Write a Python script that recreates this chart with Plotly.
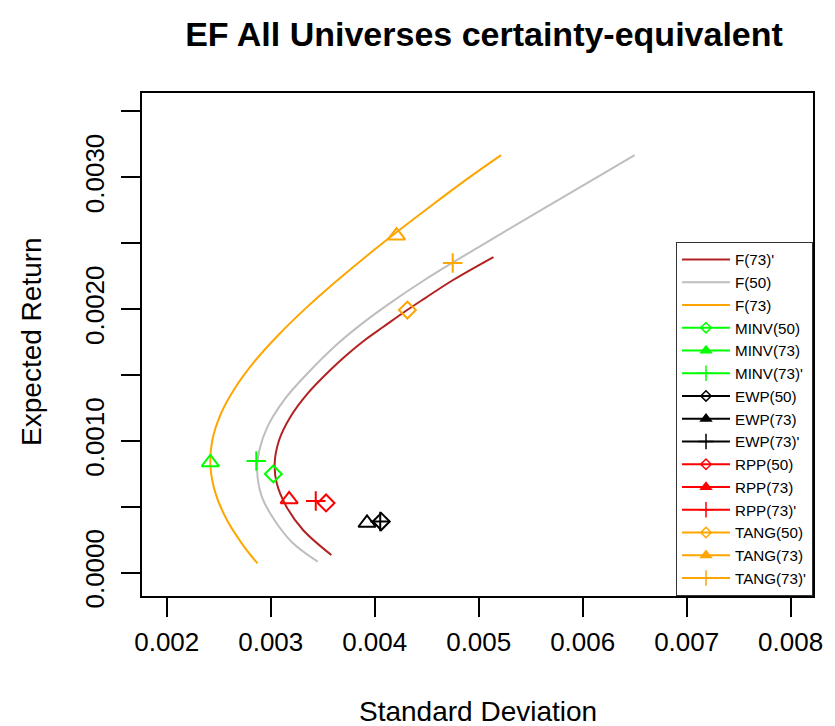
import plotly.graph_objects as go

# Efficient frontiers: standard deviation vs expected return (top to bottom)
f73p_sd = [0.005142, 0.004754, 0.004482, 0.004312, 0.004084, 0.003906, 0.003730,
           0.003573, 0.003356, 0.003190, 0.003081, 0.003038, 0.003058, 0.003151,
           0.003311, 0.003583]
f73p_mu = [0.002395, 0.002221, 0.002082, 0.001993, 0.001866, 0.001766, 0.001652,
           0.001538, 0.001361, 0.001184, 0.001007, 0.000830, 0.000678, 0.000501,
           0.000324, 0.000134]

f50_sd = [0.006500, 0.005792, 0.005165, 0.004758, 0.004479, 0.004144, 0.003881,
          0.003630, 0.003323, 0.003128, 0.002969, 0.002891, 0.002869,
          0.002914, 0.003035, 0.003215, 0.003452]
f50_mu = [0.003169, 0.002841, 0.002549, 0.002357, 0.002221, 0.002044, 0.001892,
          0.001728, 0.001487, 0.001310, 0.001108, 0.000931, 0.000779,
          0.000577, 0.000400, 0.000223, 0.0000835]

f73_sd = [0.005215, 0.004910, 0.004569, 0.004237, 0.003917, 0.003613, 0.003328,
          0.003069, 0.002841, 0.002655, 0.002517, 0.002437, 0.002421, 0.002470,
          0.002579, 0.002742, 0.002873]
f73_mu = [0.003169, 0.003000, 0.002800, 0.002600, 0.002400, 0.002200, 0.002000,
          0.001800, 0.001600, 0.001400, 0.001200, 0.001000, 0.000800, 0.000600,
          0.000400, 0.000200, 0.000070]

# Portfolio strategies and universes
strategies = ["MINV", "EWP", "RPP", "TANG"]
universes = ["(50)", "(73)", "(73)'"]

# Standard deviation / expected return per strategy, ordered as in `universes`
minv_sd = [0.003025, 0.002419, 0.002861]
minv_mu = [0.000749, 0.000837, 0.000848]
ewp_sd = [0.004063, 0.003926, 0.004053]
ewp_mu = [0.000388, 0.000377, 0.000388]
rpp_sd = [0.003532, 0.003177, 0.003433]
rpp_mu = [0.000529, 0.000556, 0.000544]
tang_sd = [0.004314, 0.004210, 0.004750]
tang_mu = [0.001993, 0.002557, 0.002350]

# Axis ticks
x_ticks = [0.002, 0.003, 0.004, 0.005, 0.006, 0.007, 0.008]
x_labels = ["0.002", "0.003", "0.004", "0.005", "0.006", "0.007", "0.008"]
y_ticks = [0.0, 0.0005, 0.0010, 0.0015, 0.0020, 0.0025, 0.0030, 0.0035]
y_labels = ["0.0000", "", "0.0010", "", "0.0020", "", "0.0030", ""]

points = {
    "MINV": (minv_sd, minv_mu),
    "EWP": (ewp_sd, ewp_mu),
    "RPP": (rpp_sd, rpp_mu),
    "TANG": (tang_sd, tang_mu),
}
strategy_colors = {"MINV": "#00FF00", "EWP": "#000000", "RPP": "#FF0000", "TANG": "#FFA500"}
plot_symbols = {"(50)": "diamond-open", "(73)": "triangle-up-open", "(73)'": "cross-thin-open"}
legend_symbols = {"(50)": "diamond-open", "(73)": "triangle-up", "(73)'": "cross-thin-open"}
plot_sizes = {"(50)": 13, "(73)": 15, "(73)'": 14}
legend_sizes = {"(50)": 8, "(73)": 9, "(73)'": 11}

fig = go.Figure()

frontiers = [
    ("F(73)'", f73p_sd, f73p_mu, "#B22222"),
    ("F(50)", f50_sd, f50_mu, "#BEBEBE"),
    ("F(73)", f73_sd, f73_mu, "#FFA500"),
]
for name, sd, mu, col in frontiers:
    fig.add_trace(go.Scatter(
        x=sd, y=mu, mode="lines", name=name,
        line=dict(color=col, width=2, shape="spline", smoothing=1.0),
    ))

# Portfolio markers on the chart
for strat in strategies:
    sd, mu = points[strat]
    col = strategy_colors[strat]
    for i, uni in enumerate(universes):
        fig.add_trace(go.Scatter(
            x=[sd[i]], y=[mu[i]], mode="markers", showlegend=False,
            name=strat + uni,
            marker=dict(symbol=plot_symbols[uni], size=plot_sizes[uni], color=col,
                        line=dict(color=col, width=2)),
        ))

# Legend entries (line through symbol, filled triangles)
for strat in strategies:
    col = strategy_colors[strat]
    for uni in universes:
        fig.add_trace(go.Scatter(
            x=[None], y=[None], mode="lines+markers", name=strat + uni,
            line=dict(color=col, width=2),
            marker=dict(symbol=legend_symbols[uni], size=legend_sizes[uni], color=col,
                        line=dict(color=col, width=1.5)),
        ))

axis_common = dict(
    showgrid=False, zeroline=False, showline=True, linecolor="black", linewidth=2,
    mirror=True, ticks="outside", ticklen=19, tickwidth=2, tickcolor="black",
    tickfont=dict(size=26, color="black"),
)

fig.update_xaxes(range=[0.001762, 0.008215], tickmode="array", tickvals=x_ticks,
                 ticktext=x_labels, ticklabelstandoff=3, **axis_common)
fig.update_yaxes(range=[-0.000177, 0.00364], tickmode="array", tickvals=y_ticks,
                 ticktext=y_labels, tickangle=-90, ticklabelstandoff=7, **axis_common)

fig.update_layout(
    width=835, height=726,
    margin=dict(l=141.7, r=12.3, t=93, b=130),
    paper_bgcolor="white", plot_bgcolor="white",
    font=dict(family="Liberation Sans, Arial, Helvetica, sans-serif", color="black"),
    title=dict(text="<b>EF All Universes certainty-equivalent</b>",
               x=484 / 835, xanchor="center", y=1 - 34 / 726, yanchor="middle",
               xref="container", yref="container",
               font=dict(size=34, color="black")),
    legend=dict(x=1, xanchor="right", y=0, yanchor="bottom",
                bordercolor="#333333", borderwidth=1, bgcolor="white",
                font=dict(size=15.2, color="black"), itemwidth=48, tracegroupgap=0),
    annotations=[
        dict(text="Standard Deviation", xref="paper", yref="paper", x=0.5, y=-0.2306,
             xanchor="center", yanchor="middle", showarrow=False,
             font=dict(size=28, color="black")),
        dict(text="Expected Return", xref="paper", yref="paper", x=-0.164, y=0.507,
             xanchor="center", yanchor="middle", textangle=-90, showarrow=False,
             font=dict(size=28, color="black")),
    ],
)

fig.write_html("out.html")
